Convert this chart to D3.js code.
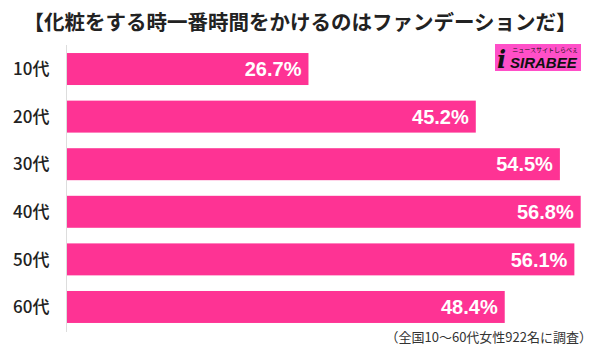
<!DOCTYPE html>
<html lang="ja">
<head>
  <meta charset="UTF-8">
  <script src="https://cdn.jsdelivr.net/npm/d3@7"></script>
  <title>化粧をする時一番時間をかけるのはファンデーションだ</title>
  <style>
    body { margin: 0; background: #fff; }
    svg { display: block; }
  </style>
</head>
<body>
  <svg width="600" height="354" id="chart"></svg>
  <script>
    // data
    const ages = ["10代", "20代", "30代", "40代", "50代", "60代"];
    const shares = [26.7, 45.2, 54.5, 56.8, 56.1, 48.4];
    const title = "【化粧をする時一番時間をかけるのはファンデーションだ】";
    const note = "（全国10～60代女性922名に調査）";

    const svg = d3.select("#chart");
    const jp = "'Noto Sans CJK JP', 'Noto Sans', sans-serif";

    // scales
    const x = d3.scaleLinear().domain([0, 56.8]).range([67, 580.7]);
    const y = d3.scaleBand().domain(ages).range([45.9, 330.1]).paddingInner(0.328).paddingOuter(0.15);

    // title
    svg.append("text")
      .attr("x", 300).attr("y", 30)
      .attr("text-anchor", "middle")
      .style("font-family", jp)
      .style("font-weight", "bold")
      .style("font-size", "20.5px")
      .style("fill", "#222")
      .text(title);

    // axis line on the left
    svg.append("line")
      .attr("x1", 66.5).attr("x2", 66.5)
      .attr("y1", 45).attr("y2", 332)
      .attr("stroke", "#ddd").attr("stroke-width", 1);

    // bars
    svg.selectAll("rect.bar")
      .data(ages)
      .enter()
      .append("rect")
      .attr("class", "bar")
      .attr("x", x(0))
      .attr("y", d => y(d))
      .attr("width", (d, i) => x(shares[i]) - x(0))
      .attr("height", y.bandwidth())
      .attr("fill", "#fe3394");

    // value labels inside the bars
    svg.selectAll("text.val")
      .data(ages)
      .enter()
      .append("text")
      .attr("class", "val")
      .attr("x", (d, i) => x(shares[i]) - 7)
      .attr("y", d => y(d) + y.bandwidth() / 2)
      .attr("dy", "0.36em")
      .attr("text-anchor", "end")
      .style("font-family", "'Liberation Sans', Arial, sans-serif")
      .style("font-weight", "bold")
      .style("font-size", "20px")
      .style("fill", "#fff")
      .text((d, i) => shares[i].toFixed(1) + "%");

    // category labels
    svg.selectAll("text.cat")
      .data(ages)
      .enter()
      .append("text")
      .attr("class", "cat")
      .attr("x", 13)
      .attr("y", d => y(d) + y.bandwidth() / 2)
      .attr("dy", "0.36em")
      .style("font-family", jp)
      .style("font-weight", "500")
      .style("font-size", "17px")
      .style("fill", "#222")
      .text(d => d);

    // footnote
    svg.append("text")
      .attr("x", 592).attr("y", 342)
      .attr("text-anchor", "end")
      .style("font-family", jp)
      .style("font-size", "13px")
      .style("fill", "#333")
      .text(note);

    // logo
    const logo = svg.append("g").attr("transform", "translate(495,44)");
    logo.append("rect").attr("width", 86).attr("height", 27).attr("fill", "#ff4fc8");
    logo.append("text")
      .attr("x", 2).attr("y", 24)
      .style("font-family", "'DejaVu Serif', serif")
      .style("font-weight", "bold")
      .style("font-style", "italic")
      .style("font-size", "24px")
      .style("fill", "#111")
      .text("i");
    logo.append("text")
      .attr("x", 15).attr("y", 24)
      .style("font-family", "'Liberation Sans', Arial, sans-serif")
      .style("font-weight", "bold")
      .style("font-style", "italic")
      .style("font-size", "15px")
      .style("fill", "#111")
      .text("SIRABEE");
    logo.append("text")
      .attr("x", 83).attr("y", 8)
      .attr("text-anchor", "end")
      .style("font-family", jp)
      .style("font-size", "6px")
      .style("fill", "#111")
      .text("ニュースサイトしらべぇ");
  </script>
</body>
</html>
